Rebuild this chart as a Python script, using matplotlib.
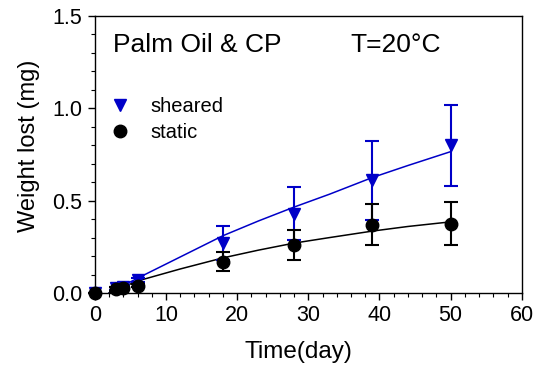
import matplotlib
matplotlib.use("Agg")
import matplotlib.pyplot as plt
from matplotlib.ticker import MultipleLocator, FormatStrFormatter
from matplotlib.lines import Line2D

plt.rcParams['font.family'] = ['Liberation Sans', 'DejaVu Sans']

# Data
time_days = [0, 3, 4, 6, 18, 28, 39, 50]
sheared = [0.0, 0.025, 0.035, 0.07, 0.27, 0.43, 0.61, 0.80]
sheared_err = [0.0, 0.01, 0.01, 0.01, 0.09, 0.145, 0.215, 0.22]
static = [0.0, 0.02, 0.025, 0.04, 0.17, 0.26, 0.37, 0.375]
static_err = [0.0, 0.01, 0.01, 0.01, 0.05, 0.08, 0.11, 0.115]

# Fitted curves
fit_x = [2, 6, 12, 18, 23, 28, 33, 39, 44, 50]
fit_sheared = [0.0, 0.08, 0.195, 0.31, 0.39, 0.465, 0.535, 0.625, 0.69, 0.765]
fit_static = [0.0, 0.065, 0.13, 0.19, 0.232, 0.27, 0.30, 0.335, 0.36, 0.385]

blue = '#0000c8'

fig = plt.figure(figsize=(5.39, 3.69), dpi=100)
ax = fig.add_axes([0.176, 0.206, 0.792, 0.751])

ax.plot(fit_x, fit_sheared, color=blue, lw=1.1, zorder=2)
ax.plot(fit_x, fit_static, color='black', lw=1.1, zorder=2)

c1 = ax.errorbar(time_days, sheared, yerr=sheared_err, fmt='v', color=blue, ms=9,
                 capsize=5, elinewidth=1.5, capthick=1.5, zorder=3)
c2 = ax.errorbar(time_days, static, yerr=static_err, fmt='o', color='black', ms=9,
                 capsize=5, elinewidth=1.5, capthick=1.5, zorder=4)
for c in (c1, c2):
    for a in c.get_children():
        a.set_clip_on(False)

ax.set_xlim(0, 60)
ax.set_ylim(0, 1.5)
ax.xaxis.set_major_locator(MultipleLocator(10))
ax.xaxis.set_minor_locator(MultipleLocator(2))
ax.yaxis.set_major_locator(MultipleLocator(0.5))
ax.yaxis.set_minor_locator(MultipleLocator(0.1))
ax.yaxis.set_major_formatter(FormatStrFormatter('%.1f'))
ax.tick_params(which='both', direction='out', top=False, right=False, labelsize=15.5)
ax.tick_params(which='major', length=5, width=1, pad=4)
ax.tick_params(which='minor', length=3, width=0.8)
for s in ax.spines.values():
    s.set_linewidth(1.0)

ax.set_xlabel('Time(day)', fontsize=17.5)
ax.set_ylabel('Weight lost (mg)', fontsize=17)
ax.xaxis.set_label_coords(0.478, -0.175)
ax.yaxis.set_label_coords(-0.128, 0.531)

ax.text(0.042, 0.895, 'Palm Oil & CP', transform=ax.transAxes, fontsize=19, va='center', ha='left')
ax.text(0.598, 0.895, 'T=20°C', transform=ax.transAxes, fontsize=19, va='center', ha='left')

handles = [Line2D([], [], marker='v', color=blue, ls='none', ms=9),
           Line2D([], [], marker='o', color='black', ls='none', ms=9)]
ax.legend(handles, ['sheared', 'static'], loc='upper left', bbox_to_anchor=(0.016, 0.737),
          frameon=False, fontsize=14.5, handlelength=1.0, handletextpad=1.0,
          labelspacing=0.35, borderaxespad=0)

fig.savefig('out.png', dpi=100)
